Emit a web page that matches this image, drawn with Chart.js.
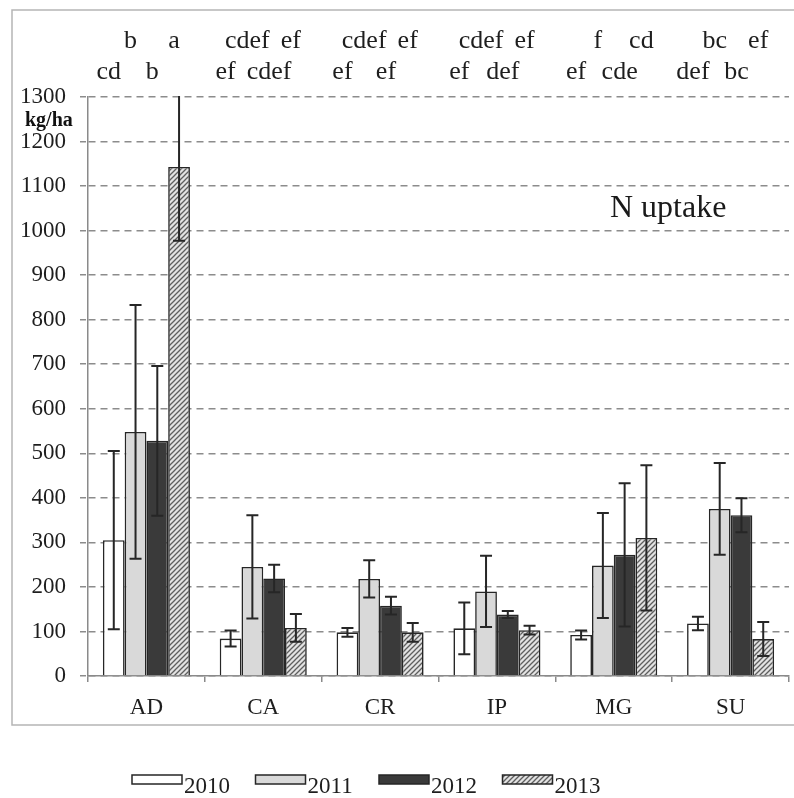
<!DOCTYPE html>
<html>
<head>
<meta charset="utf-8">
<script src="https://cdn.jsdelivr.net/npm/chart.js@4.4.1/dist/chart.umd.min.js"></script>
<style>
  html, body { margin: 0; padding: 0; background: #fff; }
  #wrap { width: 794px; height: 798px; }
</style>
</head>
<body>
<div id="wrap"><canvas id="chart" width="794" height="798"></canvas></div>
<script>
// Categories and years
const sites = ['AD', 'CA', 'CR', 'IP', 'MG', 'SU'];
const years = ['2010', '2011', '2012', '2013'];

// N uptake means (kg/ha) per year
const n2010 = [305, 84, 98, 107, 92, 118];
const n2011 = [548, 245, 218, 190, 248, 375];
const n2012 = [528, 219, 158, 138, 272, 361];
const n2013 = [1143, 108, 98, 103, 310, 83];

// Error bar half-widths
const e2010 = [200, 18, 10, 58, 10, 15];
const e2011 = [285, 116, 42, 80, 118, 103];
const e2012 = [168, 31, 20, 8, 161, 38];
const e2013 = [166, 31, 21, 10, 163, 38];

// Significance letters, one per bar
const l2010 = ['cd', 'ef', 'ef', 'ef', 'ef', 'def'];
const l2011 = ['b', 'cdef', 'cdef', 'cdef', 'f', 'bc'];
const l2012 = ['b', 'cdef', 'ef', 'def', 'cde', 'bc'];
const l2013 = ['a', 'ef', 'ef', 'ef', 'cd', 'ef'];

// Y ticks
const yMin = 0, yMax = 1300, yStep = 100;

const serif = "'Liberation Serif', 'Times New Roman', serif";

// hatched fill for 2013
function makeHatch() {
    const c = document.createElement('canvas');
    c.width = 5; c.height = 5;
    const g = c.getContext('2d');
    g.fillStyle = '#e2e2e2';
    g.fillRect(0, 0, 5, 5);
    g.strokeStyle = '#5e5e5e';
    g.lineWidth = 1.3;
    g.beginPath();
    g.moveTo(-1, 6); g.lineTo(6, -1);
    g.moveTo(-1, 1); g.lineTo(1, -1);
    g.moveTo(4, 6); g.lineTo(6, 4);
    g.stroke();
    return g.createPattern(c, 'repeat');
}
const hatch = makeHatch();

const values = [n2010, n2011, n2012, n2013];
const errors = [e2010, e2011, e2012, e2013];
const letters = [l2010, l2011, l2012, l2013];
const fills = ['#ffffff', '#d9d9d9', '#3a3a3a', hatch];

const datasets = years.map((y, i) => ({
    label: y,
    data: values[i],
    backgroundColor: fills[i],
    borderColor: '#262626',
    borderWidth: 1.6,
    categoryPercentage: 0.745,
    barPercentage: 1.0
}));

// outer frame + unit label + panel title
const framePlugin = {
    id: 'frame',
    beforeDraw(chart) {
        const ctx = chart.ctx;
        ctx.save();
        ctx.fillStyle = '#fff';
        ctx.fillRect(0, 0, chart.width, chart.height);
        ctx.strokeStyle = '#b5b5b5';
        ctx.lineWidth = 1.5;
        ctx.strokeRect(12, 10, chart.width + 10, 715);
        ctx.restore();
    },
    afterDraw(chart) {
        const ctx = chart.ctx;
        const y = chart.scales.y;
        ctx.save();
        ctx.fillStyle = '#111';
        ctx.font = 'bold 20px ' + serif;
        ctx.textAlign = 'left';
        ctx.textBaseline = 'middle';
        ctx.fillText('kg/ha', 25, (y.getPixelForValue(1300) + y.getPixelForValue(1200)) / 2 + 2);
        ctx.font = '32px ' + serif;
        ctx.fillStyle = '#1a1a1a';
        ctx.fillText('N uptake', 610, (y.getPixelForValue(1100) + y.getPixelForValue(1000)) / 2);
        ctx.restore();
    }
};

// error bars, letters and legend drawn over the bars
const errorPlugin = {
    id: 'errorBars',
    afterDatasetsDraw(chart) {
        const ctx = chart.ctx;
        const ys = chart.scales.y;
        const area = chart.chartArea;
        ctx.save();
        ctx.beginPath();
        ctx.rect(area.left, area.top - 1, area.right - area.left, area.bottom - area.top + 2);
        ctx.clip();
        ctx.strokeStyle = '#262626';
        ctx.lineWidth = 2;
        chart.data.datasets.forEach((ds, di) => {
            const meta = chart.getDatasetMeta(di);
            meta.data.forEach((bar, i) => {
                const v = ds.data[i], e = errors[di][i];
                const top = ys.getPixelForValue(v + e);
                const bot = ys.getPixelForValue(v - e);
                const x = bar.x, cap = 6;
                ctx.beginPath();
                ctx.moveTo(x, top); ctx.lineTo(x, bot);
                ctx.moveTo(x - cap, top); ctx.lineTo(x + cap, top);
                ctx.moveTo(x - cap, bot); ctx.lineTo(x + cap, bot);
                ctx.stroke();
            });
        });
        ctx.restore();

        // letters: row 1 for 2011/2013, row 2 for 2010/2012
        ctx.save();
        ctx.font = '26px ' + serif;
        ctx.fillStyle = '#1e1e1e';
        ctx.textAlign = 'center';
        ctx.textBaseline = 'alphabetic';
        const rowY = [79, 48, 79, 48];
        chart.data.datasets.forEach((ds, di) => {
            const meta = chart.getDatasetMeta(di);
            meta.data.forEach((bar, i) => {
                ctx.fillText(letters[di][i], bar.x - 5, rowY[di]);
            });
        });
        ctx.restore();

        // legend
        ctx.save();
        ctx.font = '23px ' + serif;
        ctx.textBaseline = 'middle';
        ctx.textAlign = 'left';
        let lx = 132;
        const ly = 775;
        chart.data.datasets.forEach((ds) => {
            ctx.fillStyle = ds.backgroundColor;
            ctx.fillRect(lx, ly, 50, 9);
            ctx.strokeStyle = '#262626';
            ctx.lineWidth = 1.5;
            ctx.strokeRect(lx, ly, 50, 9);
            ctx.fillStyle = '#1e1e1e';
            ctx.fillText(ds.label, lx + 52, ly + 12);
            lx += 123.5;
        });
        ctx.restore();
    }
};

new Chart(document.getElementById('chart'), {
    type: 'bar',
    data: { labels: sites, datasets: datasets },
    options: {
        responsive: false,
        animation: false,
        layout: { padding: { left: 12, top: 97, right: 5, bottom: 73 } },
        plugins: {
            legend: { display: false },
            tooltip: { enabled: false }
        },
        scales: {
            x: {
                offset: true,
                grid: {
                    offset: true,
                    drawOnChartArea: false,
                    drawTicks: true,
                    tickLength: 6,
                    color: '#8a8a8a',
                    lineWidth: 1.5
                },
                border: { display: true, color: '#8a8a8a', width: 1.5 },
                ticks: {
                    font: { family: serif, size: 23 },
                    color: '#1e1e1e',
                    padding: 12
                },
                afterFit(scale) { scale.height = 49; }
            },
            y: {
                min: yMin,
                max: yMax,
                grid: {
                    color: '#8c8c8c',
                    lineWidth: 1.5,
                    tickLength: 8,
                    tickBorderDash: [6, 4]
                },
                border: { display: true, color: '#8a8a8a', width: 1.5, dash: [7, 5] },
                ticks: {
                    stepSize: yStep,
                    font: { family: serif, size: 23 },
                    color: '#1e1e1e',
                    padding: 14,
                    callback: (v) => String(v)
                },
                afterFit(scale) { scale.width = 76; }
            }
        }
    },
    plugins: [framePlugin, errorPlugin]
});
</script>
</body>
</html>
